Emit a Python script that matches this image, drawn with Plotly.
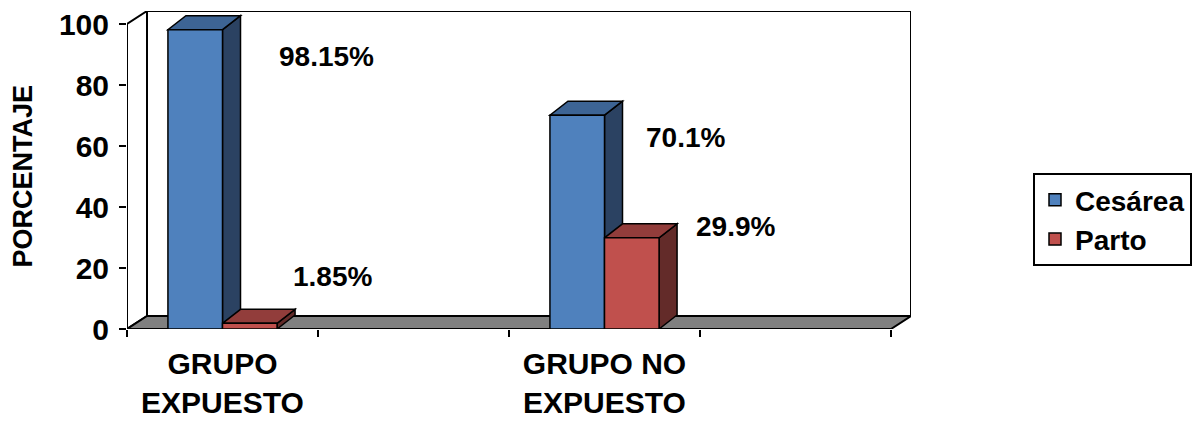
import plotly.graph_objects as go

# ---------------- data ----------------
categories = ["GRUPO<br>EXPUESTO", "", "GRUPO NO<br>EXPUESTO", ""]
cesarea = [98.15, None, 70.1, None]
parto = [1.85, None, 29.9, None]
series_names = ["Cesárea", "Parto"]
label_texts = [["98.15%", None, "70.1%", None], ["1.85%", None, "29.9%", None]]
y_ticks = [0, 20, 40, 60, 80, 100]

# ---------------- style / layout constants ----------------
W, H = 1192, 423
M_L, M_R, M_T, M_B = 127, 281, 11, 94
PLOT_W = W - M_L - M_R
PLOT_H = H - M_T - M_B
WALL_DX_PX, WALL_DY_PX = 20, 13      # depth of the 3D box
BAR_DX_PX, BAR_DY_PX = 18, 14        # depth of the 3D bars
N_SLOTS = len(categories)
SLOT_PX = (PLOT_W - WALL_DX_PX) / N_SLOTS
X_MIN = -0.5
X_MAX = X_MIN + PLOT_W / SLOT_PX
Y_MAX = 100 * PLOT_H / (PLOT_H - WALL_DY_PX)
UX = 1.0 / SLOT_PX           # x units per pixel
UY = Y_MAX / PLOT_H          # y units per pixel

FONT = "Liberation Sans, Arial, sans-serif"
front_colors = ["#4F81BD", "#C0504D"]
top_colors = ["#3D6494", "#923D3B"]
side_colors = ["#2B4262", "#632B29"]
GAP = 1.5                      # Excel gap width 150%
BW = 1.0 / (2 + GAP)           # bar width in slot units
offsets = [-BW, 0.0]
# label shifts (px) relative to the top-centre of each bar
label_shift = [[(131, -27), None, (108, -22), None],
               [(83, 47), None, (104, 11), None]]

xs = list(range(N_SLOTS))
values = [cesarea, parto]

fig = go.Figure()
shapes = []

wdx, wdy = WALL_DX_PX * UX, WALL_DY_PX * UY
x_left, x_right = X_MIN, X_MIN + N_SLOTS
# back wall
shapes.append(dict(type="rect", xref="x", yref="y", x0=x_left + wdx, x1=x_right + wdx,
                   y0=wdy, y1=100 + wdy, fillcolor="white",
                   line=dict(color="black", width=2), layer="below"))
# left wall
shapes.append(dict(type="path", xref="x", yref="y",
                   path=f"M {x_left},0 L {x_left + wdx},{wdy} L {x_left + wdx},{100 + wdy} L {x_left},100 Z",
                   fillcolor="white", line=dict(color="black", width=2), layer="below"))
# floor
shapes.append(dict(type="path", xref="x", yref="y",
                   path=f"M {x_left},0 L {x_right},0 L {x_right + wdx},{wdy} L {x_left + wdx},{wdy} Z",
                   fillcolor="#808080", line=dict(color="black", width=2), layer="below"))

bdx, bdy = BAR_DX_PX * UX, BAR_DY_PX * UY
for si, vals in enumerate(values):
    for xi, v in zip(xs, vals):
        if v is None:
            continue
        x0 = xi + offsets[si]
        x1 = x0 + BW
        shapes.append(dict(type="path", xref="x", yref="y",
                           path=f"M {x1},0 L {x1 + bdx},{bdy} L {x1 + bdx},{v + bdy} L {x1},{v} Z",
                           fillcolor=side_colors[si], line=dict(color="black", width=1.5), layer="below"))
        shapes.append(dict(type="path", xref="x", yref="y",
                           path=f"M {x0},{v} L {x1},{v} L {x1 + bdx},{v + bdy} L {x0 + bdx},{v + bdy} Z",
                           fillcolor=top_colors[si], line=dict(color="black", width=1.5), layer="below"))

for si, vals in enumerate(values):
    fig.add_trace(go.Bar(x=xs, y=vals, name=f"<b>{series_names[si]}</b>",
                         marker=dict(color=front_colors[si], line=dict(color="black", width=1.5)),
                         hoverinfo="skip"))

annotations = []
for si, vals in enumerate(values):
    for xi, v in zip(xs, vals):
        if v is None:
            continue
        dxs, dys = label_shift[si][xi]
        annotations.append(dict(x=xi + offsets[si] + BW / 2, y=v, xref="x", yref="y",
                                text=f"<b>{label_texts[si][xi]}</b>", showarrow=False,
                                xshift=dxs, yshift=dys, xanchor="center", yanchor="middle",
                                font=dict(family=FONT, size=28, color="black")))
# y axis title
annotations.append(dict(x=(23 - M_L) / PLOT_W, y=50 / Y_MAX, xref="paper", yref="paper",
                        text="<b>PORCENTAJE</b>", textangle=-90, showarrow=False,
                        xanchor="center", yanchor="middle",
                        font=dict(family=FONT, size=27, color="black")))

fig.update_layout(
    width=W, height=H,
    margin=dict(l=M_L, r=M_R, t=M_T, b=M_B, autoexpand=False),
    paper_bgcolor="white", plot_bgcolor="rgba(0,0,0,0)",
    barmode="group", bargap=GAP / (2 + GAP), bargroupgap=0,
    shapes=shapes, annotations=annotations,
    showlegend=True,
    legend=dict(x=(1033 - M_L) / PLOT_W, y=(PLOT_H - (173 - M_T)) / PLOT_H,
                xanchor="left", yanchor="top",
                bordercolor="black", borderwidth=2, bgcolor="white",
                font=dict(family=FONT, size=28, color="black"),
                tracegroupgap=2, itemwidth=30),
    font=dict(family=FONT, color="black"),
)
fig.update_xaxes(range=[X_MIN, X_MAX], tickvals=xs, ticktext=[f"<b>{c}</b>" if c else "" for c in categories],
                 ticks="", showline=False, showgrid=False, zeroline=False,
                 tickfont=dict(family=FONT, size=30, color="black"), ticklabelstandoff=14,
                 minor=dict(tickvals=[x - 0.5 for x in xs] + [xs[-1] + 0.5], ticks="outside",
                            ticklen=7, tickwidth=2, tickcolor="black", showgrid=False))
fig.update_yaxes(range=[0, Y_MAX], tickvals=y_ticks, ticktext=[f"<b>{t}</b>" for t in y_ticks],
                 ticks="outside", ticklen=7, tickwidth=2, tickcolor="black",
                 showline=False, showgrid=False, zeroline=False,
                 tickfont=dict(family=FONT, size=30, color="black"), ticklabelstandoff=4)

fig.write_html("out.html")
